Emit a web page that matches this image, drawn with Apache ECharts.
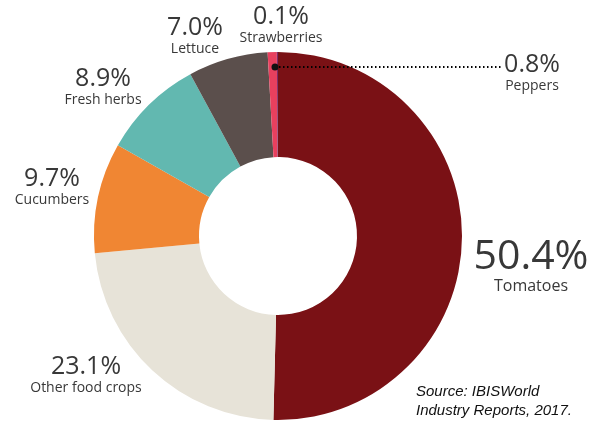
<!DOCTYPE html>
<html>
<head>
<meta charset="utf-8">
<script src="https://cdn.jsdelivr.net/npm/echarts@6/dist/echarts.min.js"></script>
<style>
html,body{margin:0;padding:0;background:#fff;}
#chart{width:595px;height:423px;}
</style>
</head>
<body>
<div id="chart"></div>
<script>
// Data
const categories = ['Tomatoes', 'Other food crops', 'Cucumbers', 'Fresh herbs', 'Lettuce', 'Peppers', 'Strawberries'];
const shares = [50.4, 23.1, 9.7, 8.9, 7.0, 0.8, 0.1];
const sourceLines = ['Source: IBISWorld', 'Industry Reports, 2017.'];

// Styles
const colors = {
  'Tomatoes': '#7a1115',
  'Other food crops': '#e7e3d8',
  'Cucumbers': '#f08633',
  'Fresh herbs': '#62b8b0',
  'Lettuce': '#5b4f4c',
  'Peppers': '#e8405e',
  'Strawberries': '#7e2b6b'
};
// label block centres (pixels)
const labelPos = {
  'Tomatoes': [531, 267],
  'Other food crops': [86, 376],
  'Cucumbers': [52, 188],
  'Fresh herbs': [103, 88],
  'Lettuce': [195, 37],
  'Peppers': [532, 74],
  'Strawberries': [281, 26]
};

const chart = echarts.init(document.getElementById('chart'), null, {renderer: 'canvas'});

const data = categories.map((name, i) => {
  const item = {
    name: name,
    value: shares[i],
    itemStyle: {color: colors[name]}
  };
  if (name === 'Tomatoes') {
    item.label = {
      rich: {
        p: {fontSize: 41, lineHeight: 38, color: '#383838', fontFamily: 'Open Sans', align: 'center'},
        n: {fontSize: 16, lineHeight: 20, color: '#383838', fontFamily: 'Open Sans', align: 'center'}
      }
    };
  }
  return item;
});

chart.setOption({
  animation: false,
  series: [{
    type: 'pie',
    center: [278, 236],
    radius: [79, 184],
    startAngle: 90,
    clockwise: true,
    silent: true,
    avoidLabelOverlap: false,
    itemStyle: {borderWidth: 0},
    label: {
      show: true,
      position: 'outside',
      formatter: p => '{p|' + p.value.toFixed(1) + '%}\n{n|' + p.name + '}',
      rich: {
        p: {fontSize: 25, lineHeight: 25, color: '#383838', fontFamily: 'Open Sans', align: 'center'},
        n: {fontSize: 14, lineHeight: 18, color: '#383838', fontFamily: 'Open Sans', align: 'center'}
      }
    },
    labelLine: {show: false},
    labelLayout: function (params) {
      const name = categories[params.dataIndex];
      const pos = labelPos[name];
      return {x: pos[0], y: pos[1], align: 'center', verticalAlign: 'middle'};
    },
    data: data
  }],
  graphic: [
    {
      type: 'line',
      shape: {x1: 275, y1: 67, x2: 502, y2: 67},
      style: {stroke: '#000', lineWidth: 1.8, lineDash: [1.5, 2.5]},
      z: 100
    },
    {
      type: 'circle',
      shape: {cx: 275, cy: 67, r: 3.5},
      style: {fill: '#111'},
      z: 101
    },
    {
      type: 'text',
      left: 416,
      top: 382,
      style: {
        text: sourceLines.join('\n'),
        font: 'italic 15px "Liberation Sans", Arial, sans-serif',
        lineHeight: 19,
        fill: '#111'
      }
    }
  ]
});
</script>
</body>
</html>
